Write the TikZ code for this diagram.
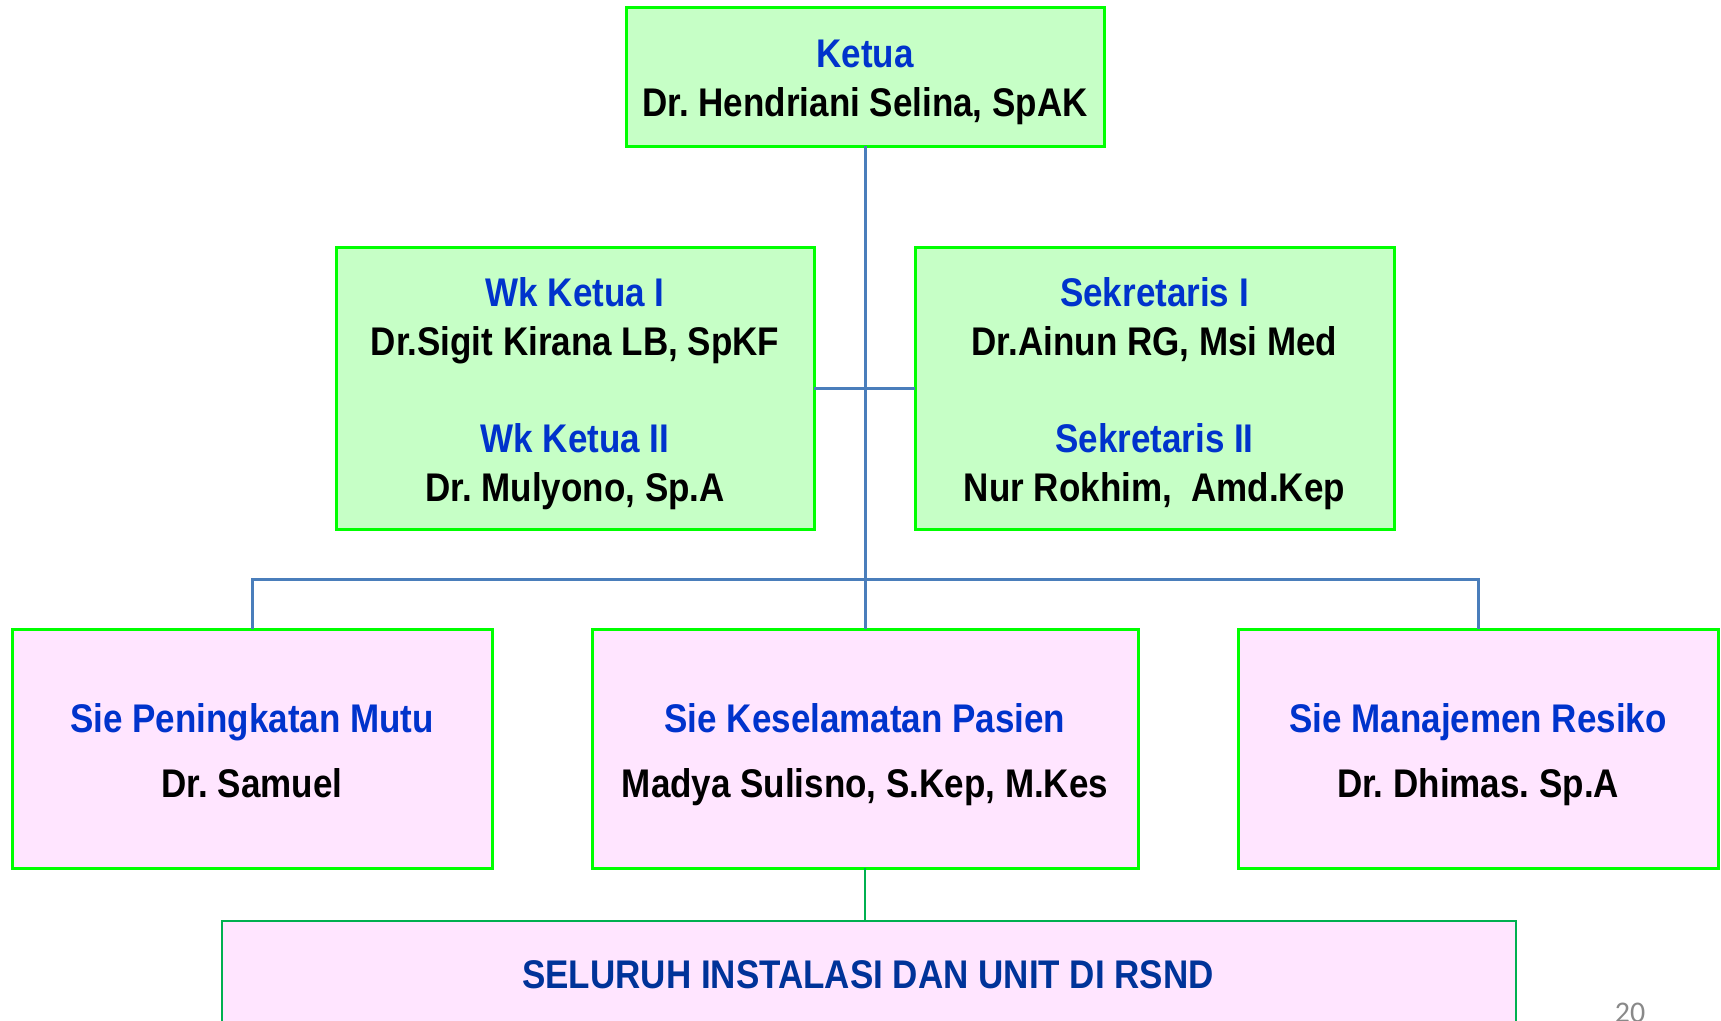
\documentclass[tikz,border=0pt]{standalone}
\usepackage{fontspec}
\setmainfont{Liberation Sans}[FakeStretch=0.875]
\newfontfamily\pagenumfont{Carlito}
\frenchspacing

\definecolor{headfill}{RGB}{198,255,198}
\definecolor{siefill}{RGB}{255,229,255}
\definecolor{boxline}{RGB}{0,255,0}
\definecolor{unitline}{RGB}{0,176,80}
\definecolor{linkblue}{RGB}{74,126,187}
\definecolor{roleblue}{RGB}{0,51,204}
\definecolor{unitblue}{RGB}{0,51,153}
\definecolor{pagegray}{RGB}{137,137,137}

\begin{document}
\begin{tikzpicture}[x=1pt,y=-1pt,
  orgbox/.style={draw=boxline, line width=3pt, inner sep=0pt, outer sep=0pt},
  headbox/.style={orgbox, fill=headfill},
  siebox/.style={orgbox, fill=siefill},
  unitbox/.style={draw=unitline, line width=2.5pt, fill=siefill, inner sep=0pt, outer sep=0pt},
  role/.style={anchor=base, inner sep=0pt, text=roleblue, font=\fontsize{40}{48}\selectfont\bfseries},
  person/.style={anchor=base, inner sep=0pt, text=black, font=\fontsize{40}{48}\selectfont\bfseries},
  unittext/.style={anchor=base, inner sep=0pt, text=unitblue, font=\fontsize{40}{48}\selectfont\bfseries},
  link/.style={draw=linkblue, line width=3pt},
  unitlink/.style={draw=unitline, line width=1.5pt}]

\useasboundingbox (0,0) rectangle (1721,1020);
\clip (0,0) rectangle (1721,1020);
\fill[white] (0,0) rectangle (1721,1020);

% boxes
\node[headbox, minimum width=478pt, minimum height=139pt] (ketua) at (865,76.5) {};
\node[headbox, minimum width=478pt, minimum height=282pt] (wk) at (575,388) {};
\node[headbox, minimum width=479pt, minimum height=282pt] (sek) at (1154.5,388) {};
\node[siebox, minimum width=480pt, minimum height=239pt] (sie1) at (252,748.5) {};
\node[siebox, minimum width=546pt, minimum height=239pt] (sie2) at (865,748.5) {};
\node[siebox, minimum width=480pt, minimum height=239pt] (sie3) at (1478,748.5) {};
\node[unitbox, minimum width=1294pt, minimum height=240pt] (all) at (869,1041) {};

% connectors
\coordinate (bus) at (865,579);
\draw[link] (ketua.south) -- (sie2.north);
\draw[link] (wk.east) -- (sek.west);
\draw[link] (sie1.north) |- (bus) -| (sie3.north);
\draw[unitlink] (sie2.south) -- (sie2.south |- all.north);

% texts
\node[role]   (tKetua) at (865,67)  {Ketua};
\node[person] (nKetua) at (865,116) {Dr. Hendriani Selina, SpAK};

\node[role]   (tWk1) at (575,306) {Wk Ketua I};
\node[person] (nWk1) at (575,355) {Dr.Sigit Kirana LB, SpKF};
\node[role]   (tWk2) at (575,452) {Wk Ketua II};
\node[person] (nWk2) at (575,501) {Dr. Mulyono, Sp.A};

\node[role]   (tSek1) at (1154.5,306) {Sekretaris I};
\node[person] (nSek1) at (1154.5,355) {Dr.Ainun RG, Msi Med};
\node[role]   (tSek2) at (1154.5,452) {Sekretaris II};
\node[person] (nSek2) at (1154.5,501) {Nur Rokhim,\ \ Amd.Kep};

\node[role]   (tSie1) at (252,732) {Sie Peningkatan Mutu};
\node[person] (nSie1) at (252,797) {Dr. Samuel};
\node[role]   (tSie2) at (865,732) {Sie Keselamatan Pasien};
\node[person] (nSie2) at (865,797) {Madya Sulisno, S.Kep, M.Kes};
\node[role]   (tSie3) at (1478,732) {Sie Manajemen Resiko};
\node[person] (nSie3) at (1478,797) {Dr. Dhimas. Sp.A};

\node[unittext] (tAll) at (868,988) {SELURUH INSTALASI DAN UNIT DI RSND};

\node[anchor=base, inner sep=0pt, text=pagegray, font=\pagenumfont\fontsize{30}{36}\selectfont] (pnum) at (1630,1022) {20};
\end{tikzpicture}
\end{document}
